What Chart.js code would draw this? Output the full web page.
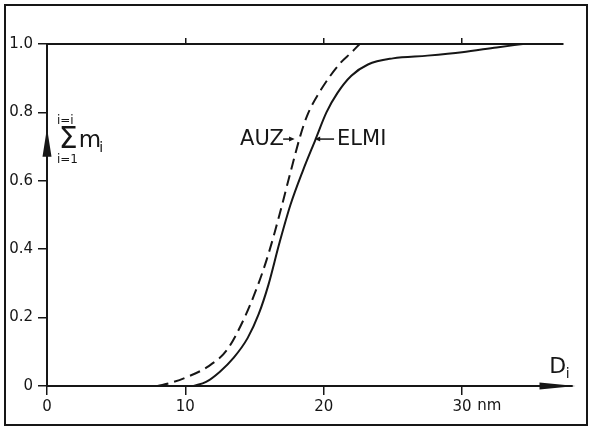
<!DOCTYPE html>
<html lang="de">
<head>
    <meta charset="UTF-8">
    <title>Summenverteilung D_i</title>
    <script src="https://cdn.jsdelivr.net/npm/chart.js"></script>
    <style>
        body { margin: 0; background: #fff; }
        canvas { display: block; }
    </style>
</head>
<body>
    <canvas id="chart" width="589" height="427"></canvas>

    <script>
        // Ticks
        const xTicks = [0, 10, 20, 30];
        const yTicks = [0, 0.2, 0.4, 0.6, 0.8, 1.0];

        // ELMI (durchgezogen)
        const elmiX = [10.6, 11.5, 12.5, 13.5, 14.5, 15.3, 16.0, 16.8, 17.6, 18.5, 19.4, 20.2, 21.0, 22.0, 23.2, 25.0, 27.5, 30.0, 32.5, 34.4];
        const elmiY = [0, 0.012, 0.042, 0.083, 0.14, 0.21, 0.295, 0.418, 0.53, 0.63, 0.72, 0.80, 0.857, 0.907, 0.94, 0.958, 0.966, 0.976, 0.99, 1.0];

        // AUZ (gestrichelt)
        const auzX = [8.0, 9.0, 10.1, 11.6, 13.0, 14.2, 15.2, 16.0, 16.8, 17.6, 18.3, 18.8, 19.8, 21.2, 22.0, 22.6];
        const auzY = [0, 0.01, 0.026, 0.056, 0.105, 0.193, 0.29, 0.385, 0.50, 0.625, 0.73, 0.79, 0.866, 0.944, 0.975, 1.0];

        const FONT = '"DejaVu Sans", sans-serif';
        const INK = '#161616';
        const X_MAX = 37.3;

        const toPoints = (xs, ys) => xs.map((v, i) => ({ x: v, y: ys[i] }));

        function tri(ctx, a, b, c) {
            ctx.beginPath();
            ctx.moveTo(a[0], a[1]); ctx.lineTo(b[0], b[1]); ctx.lineTo(c[0], c[1]);
            ctx.closePath();
            ctx.fill();
        }

        // Rahmen, Pfeile und Beschriftungen
        const decor = {
            id: 'decor',
            afterDraw(chart) {
                const { ctx, scales: { x, y } } = chart;
                const px = v => x.getPixelForValue(v);
                const py = v => y.getPixelForValue(v);
                ctx.save();
                ctx.strokeStyle = INK;
                ctx.fillStyle = INK;

                // Rahmen
                ctx.lineWidth = 2;
                ctx.strokeRect(5, 5, 582, 420);

                // x-Achse mit Pfeil
                const y0 = py(0);
                ctx.lineWidth = 2;
                ctx.beginPath(); ctx.moveTo(x.right, y0); ctx.lineTo(px(38.0), y0); ctx.stroke();
                tri(ctx, [px(38.2), y0], [px(35.6), y0 - 3.5], [px(35.6), y0 + 3.5]);

                // Pfeil auf y-Achse
                const x0 = px(0);
                tri(ctx, [x0, py(0.755)], [x0 - 4.5, py(0.67)], [x0 + 4.5, py(0.67)]);

                ctx.textBaseline = 'alphabetic';
                ctx.textAlign = 'left';

                // Summenzeichen
                ctx.font = '12px ' + FONT;
                ctx.fillText('i=i', px(0.72), py(0.765));
                ctx.fillText('i=1', px(0.72), py(0.652));
                ctx.font = '30px ' + FONT;
                ctx.fillText('\u03A3', px(0.85), py(0.695));
                ctx.font = '23px ' + FONT;
                ctx.fillText('m', px(2.3), py(0.699));
                ctx.font = '14px ' + FONT;
                ctx.fillText('i', px(3.78), py(0.684));

                // D_i
                ctx.font = '22px ' + FONT;
                ctx.fillText('D', px(36.3), py(0.038));
                ctx.font = '14px ' + FONT;
                ctx.fillText('i', px(37.5), py(0.022));

                // nm hinter 30
                ctx.font = '15px ' + FONT;
                ctx.textBaseline = 'top';
                ctx.fillText('nm', px(31.1), y0 + 13);

                // Kurvenbeschriftung
                ctx.font = '21px ' + FONT;
                ctx.textBaseline = 'middle';
                const yl = py(0.722);
                ctx.fillText('AUZ', px(13.96), yl);
                ctx.fillText('ELMI', px(20.97), yl);

                ctx.lineWidth = 1.5;
                ctx.beginPath(); ctx.moveTo(px(17.07), yl); ctx.lineTo(px(17.6), yl); ctx.stroke();
                tri(ctx, [px(17.9), yl], [px(17.5), yl - 2.5], [px(17.5), yl + 2.5]);
                ctx.beginPath(); ctx.moveTo(px(19.65), yl); ctx.lineTo(px(20.75), yl); ctx.stroke();
                tri(ctx, [px(19.35), yl], [px(19.75), yl - 2.5], [px(19.75), yl + 2.5]);

                ctx.restore();
            }
        };

        new Chart(document.getElementById('chart').getContext('2d'), {
            type: 'line',
            data: {
                datasets: [{
                    label: 'ELMI',
                    data: toPoints(elmiX, elmiY),
                    borderColor: INK,
                    borderWidth: 2,
                    pointRadius: 0,
                    cubicInterpolationMode: 'monotone'
                }, {
                    label: 'AUZ',
                    data: toPoints(auzX, auzY),
                    borderColor: INK,
                    borderWidth: 2,
                    borderDash: [11, 6],
                    pointRadius: 0,
                    cubicInterpolationMode: 'monotone'
                }]
            },
            options: {
                responsive: false,
                animation: false,
                devicePixelRatio: 1,
                layout: { padding: { left: 0, top: 0, right: 26, bottom: 0 } },
                plugins: { legend: { display: false }, tooltip: { enabled: false } },
                scales: {
                    x: {
                        type: 'linear', position: 'bottom', min: 0, max: X_MAX,
                        afterFit: s => { s.height = 41; },
                        afterBuildTicks: s => { s.ticks = xTicks.map(v => ({ value: v })); },
                        border: { color: INK, width: 2 },
                        grid: { drawOnChartArea: false, tickLength: 9, color: INK, lineWidth: 1.5 },
                        ticks: { color: INK, padding: 3, font: { family: FONT, size: 15 } }
                    },
                    x2: {
                        type: 'linear', position: 'top', min: 0, max: X_MAX,
                        afterFit: s => { s.height = 44; },
                        afterBuildTicks: s => { s.ticks = xTicks.slice(1).map(v => ({ value: v })); },
                        border: { color: INK, width: 2 },
                        grid: { drawOnChartArea: false, tickLength: 6, color: INK, lineWidth: 1.5 },
                        ticks: { display: false }
                    },
                    y: {
                        type: 'linear', min: 0, max: 1,
                        afterFit: s => { s.width = 47; },
                        afterBuildTicks: s => { s.ticks = yTicks.map(v => ({ value: v })); },
                        border: { color: INK, width: 2 },
                        grid: { drawOnChartArea: false, tickLength: 9, color: INK, lineWidth: 1.5 },
                        ticks: {
                            color: INK, padding: 5, font: { family: FONT, size: 15 },
                            callback: v => v === 0 ? '0' : v.toFixed(1)
                        }
                    }
                }
            },
            plugins: [decor]
        });
    </script>
</body>
</html>
